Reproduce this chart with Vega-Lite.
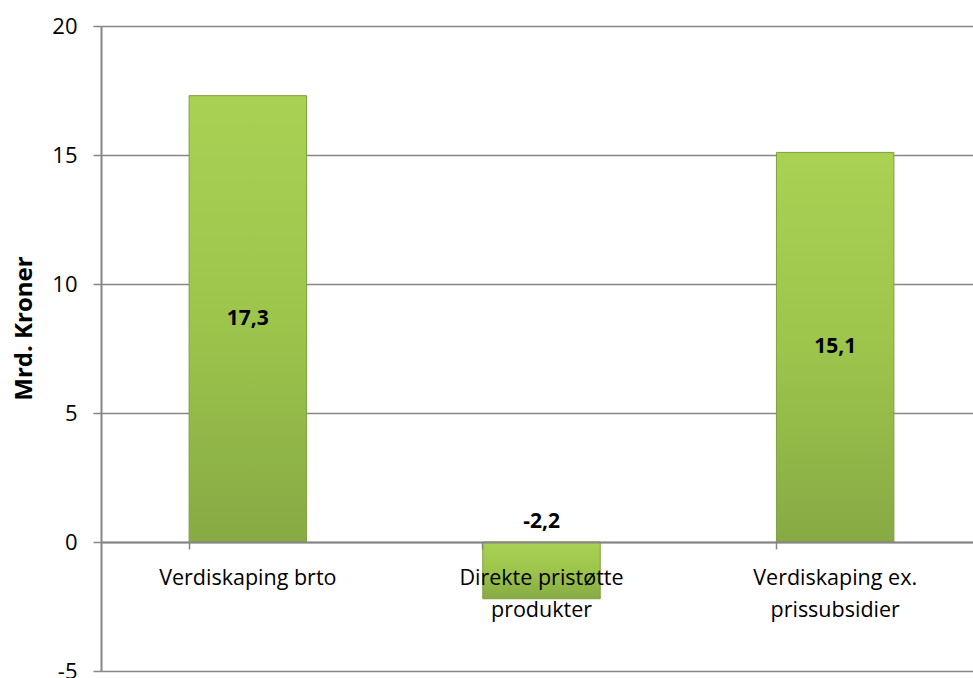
{
  "$schema": "https://vega.github.io/schema/vega-lite/v6.json",
  "width": 881,
  "height": 645,
  "autosize": {"type": "none"},
  "padding": {"left": 101, "top": 26, "right": 0, "bottom": 7},
  "background": "white",
  "config": {
    "locale": {"number": {"decimal": ",", "thousands": " ", "grouping": [3], "currency": ["", " kr"], "minus": "-"}},
    "view": {"stroke": null},
    "font": "Open Sans"
  },
  "data": {
    "values": [
      {"kategori": "Verdiskaping brto", "verdi": 17.3},
      {"kategori": "Direkte pristøtte produkter", "verdi": -2.2},
      {"kategori": "Verdiskaping ex. prissubsidier", "verdi": 15.1}
    ]
  },
  "encoding": {
    "x": {
      "field": "kategori",
      "type": "nominal",
      "sort": null,
      "scale": {"paddingInner": 0.6, "paddingOuter": 0.3},
      "axis": {
        "title": null,
        "offset": -129,
        "labelAngle": 0,
        "labelFont": "Open Sans",
        "labelFontSize": 21.5,
        "labelColor": "#000000",
        "labelPadding": 18,
        "labelLineHeight": 32,
        "labelLimit": 300,
        "bandPosition": 0,
        "tickSize": 7,
        "tickColor": "#868686",
        "tickWidth": 1.5,
        "domainColor": "#868686",
        "domainWidth": 2,
        "grid": false,
        "zindex": 1,
        "labelExpr": "datum.label == 'Direkte pristøtte produkter' ? ['Direkte pristøtte', 'produkter'] : datum.label == 'Verdiskaping ex. prissubsidier' ? ['Verdiskaping ex.', 'prissubsidier'] : datum.label"
      }
    }
  },
  "layer": [
    {
      "mark": {
        "type": "bar",
        "color": {
          "gradient": "linear",
          "x1": 0, "y1": 0, "x2": 0, "y2": 1,
          "stops": [
            {"offset": 0, "color": "#a9d153"},
            {"offset": 0.5, "color": "#9dc54c"},
            {"offset": 1, "color": "#87aa44"}
          ]
        },
        "stroke": "#7f9f3c",
        "strokeWidth": 1
      },
      "encoding": {
        "y": {
          "field": "verdi",
          "type": "quantitative",
          "scale": {"domain": [-5, 20], "nice": false, "zero": true},
          "axis": {
            "title": "Mrd. Kroner",
            "titleFont": "Open Sans",
            "titleFontSize": 24,
            "titleFontWeight": "bold",
            "titleColor": "#000000",
            "titleX": -77,
            "titleY": 302,
            "titleAlign": "center",
            "titleBaseline": "middle",
            "titleAngle": -90,
            "values": [-5, 0, 5, 10, 15, 20],
            "format": "d",
            "labelFont": "Open Sans",
            "labelFontSize": 22,
            "labelColor": "#000000",
            "labelPadding": 16,
            "tickSize": 8,
            "tickColor": "#868686",
            "tickWidth": 1.5,
            "domainColor": "#868686",
            "domainWidth": 2,
            "gridColor": "#868686",
            "gridWidth": 1.5
          }
        }
      }
    },
    {
      "transform": [
        {"filter": "datum.verdi > 0"},
        {"calculate": "datum.verdi / 2", "as": "midt"}
      ],
      "mark": {"type": "text", "font": "Open Sans", "fontSize": 21, "fontWeight": "bold", "color": "#000000"},
      "encoding": {
        "y": {"field": "midt", "type": "quantitative"},
        "text": {"field": "verdi", "type": "quantitative", "format": ".1f"}
      }
    },
    {
      "transform": [{"filter": "datum.verdi < 0"}],
      "mark": {"type": "text", "font": "Open Sans", "fontSize": 21, "fontWeight": "bold", "color": "#000000", "baseline": "bottom", "dy": -10},
      "encoding": {
        "y": {"datum": 0, "type": "quantitative"},
        "text": {"field": "verdi", "type": "quantitative", "format": ".1f"}
      }
    }
  ]
}
